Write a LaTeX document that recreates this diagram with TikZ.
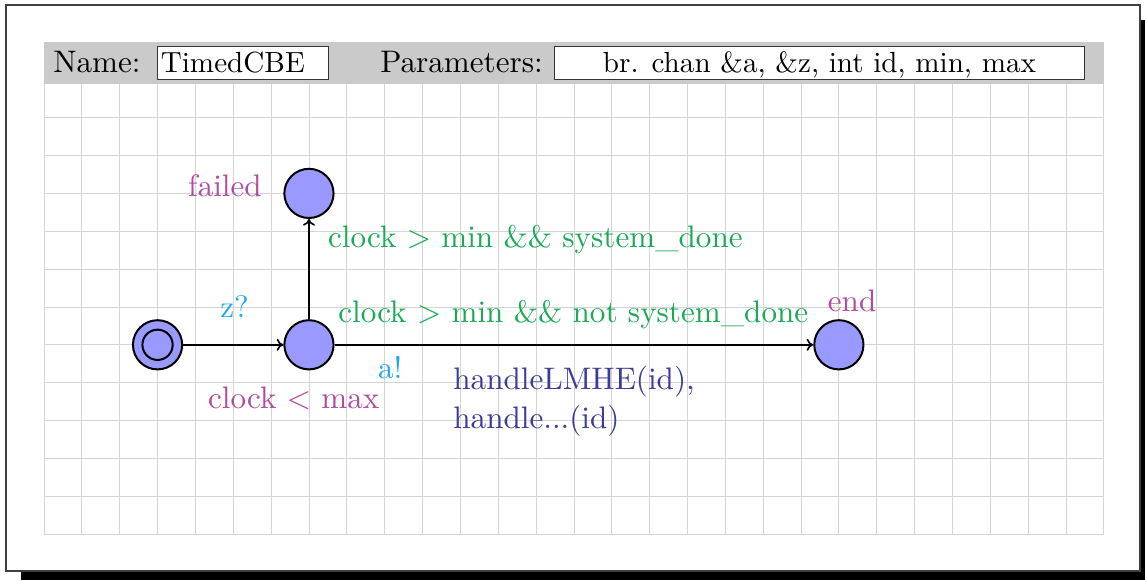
\documentclass[tikz,border=0pt]{standalone}
\usepackage{fontspec}
\setmainfont{lmroman10-regular}[Extension=.otf]
\usetikzlibrary{arrows.meta}
\definecolor{locname}{RGB}{176,76,159}
\definecolor{guardc}{RGB}{25,170,85}
\definecolor{syncc}{RGB}{30,170,240}
\definecolor{updc}{RGB}{60,60,152}
\definecolor{locfill}{RGB}{153,153,255}
\definecolor{gridc}{RGB}{212,212,212}
\definecolor{headc}{RGB}{202,202,202}
\tikzset{
  bigfont/.style={font=\fontsize{23.4}{28.5}\selectfont},
  fieldfont/.style={font=\fontsize{21.9}{26}\selectfont},
  loc/.style={circle, draw=black, line width=1.5pt, fill=locfill, minimum size=1.3cm, inner sep=0pt},
  inner/.style={circle, draw=black, line width=1.5pt, minimum size=0.8cm, inner sep=0pt},
  edge/.style={line width=1.2pt, -{To[length=5pt,width=9pt]}},
  lname/.style={bigfont, text=locname, inner sep=0pt},
  guard/.style={bigfont, text=guardc, inner sep=0pt},
  sync/.style={bigfont, text=syncc, inner sep=0pt},
  upd/.style={bigfont, text=updc, inner sep=0pt, align=left},
  hdr/.style={bigfont, text=black, inner sep=0pt},
  fieldbox/.style={draw=black!80, fill=white, line width=0.8pt, inner sep=0pt}
}
\begin{document}
\begin{tikzpicture}
\useasboundingbox (-1.1625,1.1096) rectangle (29.088,-14.214);
% shadow and frame
\fill[black] (-0.61,0.58) rectangle (29.088,-14.214);
\draw[fill=white, draw=black!75, line width=0.8pt] (-1.004,0.9775) rectangle (28.956,-13.976);
% grid
\draw[gridc, line width=0.6pt] (0,0) grid (28,-13);
% header
\fill[headc] (0,0) rectangle (28,-1.11);
\node[fieldbox, minimum width=4.52cm, minimum height=0.87cm, anchor=north west] (namebox) at (2.985,-0.106) {};
\node[fieldbox, minimum width=14.0cm, minimum height=0.87cm, anchor=north west] (parbox) at (13.474,-0.106) {};
\node[hdr, anchor=base west] (namelbl) at (0.238,-0.81) {Name:};
\node[hdr, fieldfont, anchor=base west] (nametxt) at (3.08,-0.81) {TimedCBE};
\node[hdr, anchor=base west] (parlbl) at (8.877,-0.81) {Parameters:};
\node[hdr, fieldfont, anchor=base] (partxt) at (parbox.center |- 0,-0.81) {br. chan \&a, \&z, int id, min, max};
% locations
\node[loc] (init) at (3,-8) {};
\node[inner] (initin) at (init.center) {};
\node[loc] (mid) at (7,-8) {};
\node[loc] (failed) at (7,-4) {};
\node[loc] (endloc) at (21,-8) {};
% location names
\node[lname, anchor=base east] (failedname) at (5.76,-4.095) {failed};
\node[lname, anchor=base] (endname) at (21.35,-7.13) {end};
\node[lname, anchor=base west] (inv) at (4.33,-9.67) {clock < max};
% edges
\draw[edge] (init) -- (mid);
\draw[edge] (mid) -- (failed);
\draw[edge] (mid) -- (endloc);
% labels
\node[sync, anchor=base west] (zq) at (4.65,-7.29) {z?};
\node[guard, anchor=base west] (g1) at (7.50,-5.42) {clock > min \&\& system\_done};
\node[guard, anchor=base west] (g2) at (7.77,-7.42) {clock > min \&\& not system\_done};
\node[sync, anchor=base west] (ab) at (8.82,-8.90) {a!};
\node[upd, anchor=base west] (u1) at (10.81,-9.19) {handleLMHE(id),};
\node[upd, anchor=base west] (u2) at (10.81,-10.20) {handle...(id)};
\end{tikzpicture}
\end{document}
